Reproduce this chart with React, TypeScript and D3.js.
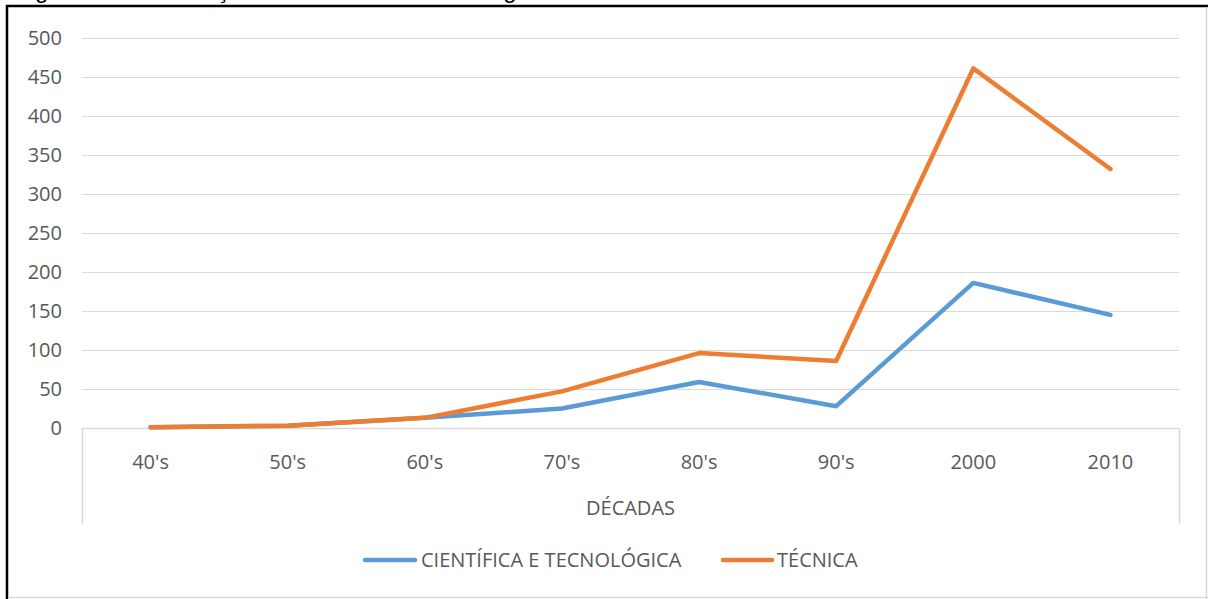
import React from "react";
import * as d3 from "d3";

const width = 1208;
const height = 599;
const margin = { top: 38, right: 29, bottom: 171, left: 82 };

const decades = ["40's", "50's", "60's", "70's", "80's", "90's", "2000", "2010"];
const cientifica = [1, 3, 13, 25, 59, 28, 186, 145];
const tecnica = [1, 3, 13, 47, 96, 86, 461, 332];
const yTicks = [0, 50, 100, 150, 200, 250, 300, 350, 400, 450, 500];

const series = [
  { name: "CIENTÍFICA E TECNOLÓGICA", values: cientifica, color: "#5B9BD5" },
  { name: "TÉCNICA", values: tecnica, color: "#ED7D31" },
];

const font = "'Open Sans', 'Noto Sans', sans-serif";
const fontSize = 20;
const textColor = "#595959";
const gridColor = "#d9d9d9";

export default function App() {
  const x = d3
    .scaleBand()
    .domain(decades)
    .range([margin.left, width - margin.right]);
  const y = d3
    .scaleLinear()
    .domain([0, 500])
    .range([height - margin.bottom, margin.top]);

  const line = d3
    .line<number>()
    .x((d, i) => (x(decades[i]) as number) + x.bandwidth() / 2)
    .y((d) => y(d));

  const x0 = margin.left;
  const x1 = width - margin.right;
  const y0 = y(0);
  const boxBottom = y0 + 96;

  // legend placement
  const legend = [
    { lx: 365, len: 50, tx: 421 },
    { lx: 723, len: 49, tx: 777 },
  ];

  return (
    <svg
      width={width}
      height={height}
      style={{ position: "absolute", left: 0, top: 0, background: "#fff" }}
    >
      {/* caption above the frame, cropped like in the source image */}
      <text
        x={15}
        y={-2}
        fontFamily="'Liberation Sans', Arial, sans-serif"
        fontSize={24}
        fill="#000"
      >
        Figura 1 – Distribuição das obras com tecnologia
      </text>

      {/* frame */}
      <line x1={6} x2={width} y1={6} y2={6} stroke="#000" strokeWidth={2.5} />
      <line x1={7} x2={7} y1={5} y2={height} stroke="#000" strokeWidth={2.5} />
      <line x1={1206.5} x2={1206.5} y1={7} y2={height} stroke={gridColor} strokeWidth={1.5} />
      <line x1={8} x2={width} y1={597.5} y2={597.5} stroke={gridColor} strokeWidth={1.5} />

      {/* grid + y labels */}
      {yTicks.map((t) => (
        <g key={t}>
          {t > 0 && (
            <line
              x1={x0}
              x2={x1}
              y1={y(t) + 0.5}
              y2={y(t) + 0.5}
              stroke={gridColor}
              strokeWidth={1}
            />
          )}
          <text
            x={62}
            y={y(t)}
            dy="0.35em"
            textAnchor="end"
            fontFamily={font}
            fontSize={fontSize}
            fill={textColor}
          >
            {t}
          </text>
        </g>
      ))}

      {/* category axis box */}
      <line x1={x0} x2={x1} y1={y0 + 0.5} y2={y0 + 0.5} stroke={gridColor} strokeWidth={1.5} />
      <line x1={x0 + 0.5} x2={x0 + 0.5} y1={y0} y2={boxBottom} stroke={gridColor} strokeWidth={1.5} />
      <line x1={x1 + 0.5} x2={x1 + 0.5} y1={y0} y2={boxBottom} stroke={gridColor} strokeWidth={1.5} />

      {decades.map((d) => (
        <text
          key={d}
          x={(x(d) as number) + x.bandwidth() / 2}
          y={y0 + 34}
          dy="0.35em"
          textAnchor="middle"
          fontFamily={font}
          fontSize={fontSize}
          fill={textColor}
        >
          {d}
        </text>
      ))}
      <text
        x={(x0 + x1) / 2}
        y={y0 + 80}
        dy="0.35em"
        textAnchor="middle"
        fontFamily={font}
        fontSize={fontSize}
        fill={textColor}
      >
        DÉCADAS
      </text>

      {/* series */}
      {series.map((s) => (
        <path
          key={s.name}
          d={line(s.values) as string}
          fill="none"
          stroke={s.color}
          strokeWidth={4.5}
          strokeLinejoin="round"
          strokeLinecap="round"
        />
      ))}

      {/* legend */}
      {series.map((s, i) => (
        <g key={s.name}>
          <line
            x1={legend[i].lx}
            x2={legend[i].lx + legend[i].len}
            y1={560}
            y2={560}
            stroke={s.color}
            strokeWidth={4.5}
            strokeLinecap="round"
          />
          <text
            x={legend[i].tx}
            y={560}
            dy="0.35em"
            fontFamily={font}
            fontSize={fontSize}
            fill={textColor}
          >
            {s.name}
          </text>
        </g>
      ))}
    </svg>
  );
}
